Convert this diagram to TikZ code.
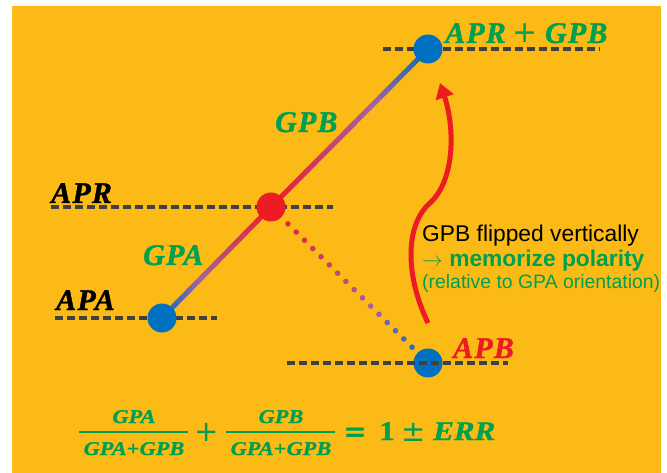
\documentclass[tikz,border=0pt]{standalone}
\usepackage{fontspec}
\usetikzlibrary{arrows.meta,calc}
\setmainfont{Liberation Serif}
\setsansfont{Liberation Sans}
\newfontfamily\lblfont{Liberation Serif}[LetterSpace=4, BoldItalicFeatures={FakeBold=1.2}]
\newfontfamily\eqfont{Liberation Serif}[FakeStretch=1.15, BoldItalicFeatures={FakeBold=1}, BoldFeatures={FakeBold=1}]
\newfontfamily\symfont{DejaVu Sans}

\definecolor{bgorange}{RGB}{251,186,22}
\definecolor{lblgreen}{RGB}{0,160,80}
\definecolor{ptred}{RGB}{237,28,36}
\definecolor{ptblue}{RGB}{0,112,192}
\definecolor{midpurple}{RGB}{165,95,165}
\definecolor{dashgray}{RGB}{64,64,64}

\tikzset{
  levelline/.style={dashgray, line width=3.2pt, dash pattern=on 8pt off 4pt},
  ptdot/.style={circle, inner sep=0pt, minimum size=29pt},
  lbl/.style={inner sep=0pt, anchor=base west, font=\lblfont\bfseries\itshape\fontsize{30}{32}\selectfont},
  sanstext/.style={inner sep=0pt, anchor=base west},
  eqsmall/.style={inner sep=0pt, anchor=base, lblgreen, font=\eqfont\bfseries\itshape\fontsize{19.5}{21}\selectfont},
  eqbig/.style={inner sep=0pt, anchor=base, lblgreen, font=\eqfont\bfseries\fontsize{27}{30}\selectfont},
  eqsym/.style={inner sep=0pt, anchor=base, lblgreen, font=\symfont\fontsize{29}{31}\selectfont},
  fracbar/.style={lblgreen, line width=1.8pt},
  polarity/.style={ptred, line width=5pt, -{Triangle[length=15pt,width=18pt]}},
}

% colour along a blue -> purple -> red ramp, t in [0,1] measured from the blue end
\newcommand\rampcolor[1]{%
  \pgfmathsetmacro\rampt{#1}%
  \ifdim\rampt pt<0.35pt
    \pgfmathtruncatemacro\rampp{100*\rampt/0.35}%
    \colorlet{segc}{midpurple!\rampp!ptblue}%
  \else
    \pgfmathtruncatemacro\rampp{100*(\rampt-0.35)/0.65}%
    \colorlet{segc}{ptred!\rampp!midpurple}%
  \fi}

% solid shaded segment from a blue end (#1) to a red end (#2)
\newcommand\rampsegment[2]{%
  \foreach \i in {0,...,39}{%
    \rampcolor{(\i+0.5)/40}%
    \draw[segc, line width=5pt] ($(#1)!\i/40!(#2)$) -- ($(#1)!{(\i+1.02)/40}!(#2)$);
  }}

\begin{document}
\begin{tikzpicture}[x=1pt, y=-1pt]
  \useasboundingbox (0,0) rectangle (667,473);
  \fill[white] (0,0) rectangle (667,473);
  \fill[bgorange] (12,6) rectangle (661,473);

  % point positions
  \coordinate (pA) at (162,318);
  \coordinate (pR) at (271,207);
  \coordinate (pT) at (428,49);
  \coordinate (pB) at (428,363);

  % level lines
  \draw[levelline] (51,207) -- (333,207);
  \draw[levelline] (55,318) -- (217,318);
  \draw[levelline] (383,49) -- (600,49);

  % GPA and GPB segments
  \rampsegment{pA}{pR}
  \rampsegment{pT}{pR}

  % dotted link from APR down to APB
  \foreach \k in {0,...,15}{%
    \pgfmathsetmacro\dott{0.108+0.0527*\k}%
    \rampcolor{1-\dott}%
    \fill[segc] ($(pR)!\dott!(pB)$) circle[radius=2.8];
  }

  % points
  \node[ptdot, fill=ptblue] (apa) at (pA) {};
  \node[ptdot, fill=ptred] (apr) at (pR) {};
  \node[ptdot, fill=ptblue] (top) at (pT) {};
  \node[ptdot, fill=ptblue] (apb) at (pB) {};
  \draw[levelline] (287,363) -- (508,363);

  % flip arrow
  \coordinate (arS) at (428,323);
  \coordinate (arM) at (430,203);
  \coordinate (arE) at (440,83);
  \draw[polarity] (arS) .. controls (405,275) and (405,225) .. (arM)
                        .. controls (455,180) and (455,128) .. (arE);

  % labels
  \node[lbl, lblgreen] (ltop) at (445,43) {APR\hspace{7pt}{\symfont\mdseries\upshape\fontsize{30}{30}\selectfont+}\hspace{7pt}GPB};
  \node[lbl] (lapr) at (51,203) {APR};
  \node[lbl] (lapa) at (56,310) {APA};
  \node[lbl, ptred] (lapb) at (453,358) {APB};
  \node[lbl, lblgreen] (lgpb) at (275,132) {GPB};
  \node[lbl, lblgreen] (lgpa) at (143,265) {GPA};

  % explanation
  \node[sanstext, font=\sffamily\fontsize{22.8}{24}\selectfont] (t1) at (422,242) {GPB flipped vertically};
  \node[sanstext, lblgreen, font=\sffamily\fontsize{22.8}{24}\selectfont] (t2) at (422,267) {$\rightarrow$ \textbf{memorize polarity}};
  \node[sanstext, lblgreen, font=\sffamily\fontsize{19.4}{21}\selectfont] (t3) at (422,288) {(relative to GPA orientation)};

  % normalisation equation
  \node[eqsmall] (n1) at (134,423) {GPA};
  \node[eqsmall] (d1) at (134,455) {GPA{\upshape +}GPB};
  \draw[fracbar] (79,432) -- (188,432);
  \node[eqsym] (plus) at (207,441) {+};
  \node[eqsmall] (n2) at (281,423) {GPB};
  \node[eqsmall] (d2) at (281,455) {GPA{\upshape +}GPB};
  \draw[fracbar] (226,432) -- (335,432);
  \node[eqsym, font=\symfont\bfseries\fontsize{28}{30}\selectfont] (eq) at (355,441) {=};
  \node[eqbig] (one) at (387,440) {1};
  \node[eqsym] (pm) at (414,441) {±};
  \node[eqbig, anchor=base west, font=\eqfont\bfseries\itshape\fontsize{27}{30}\selectfont] (err) at (433,440) {ERR};
\end{tikzpicture}
\end{document}
